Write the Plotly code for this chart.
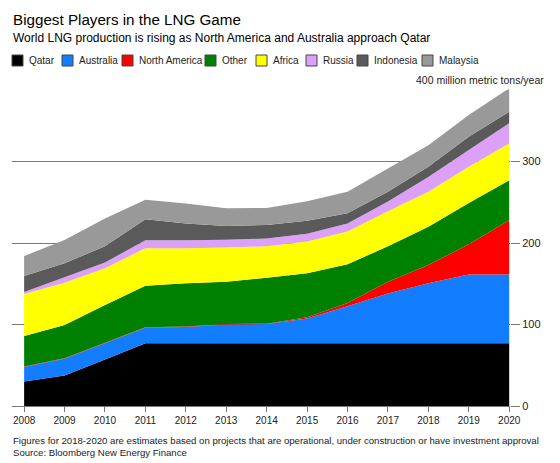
import plotly.graph_objects as go

years = list(range(2008, 2021))
qatar = [30, 37.5, 57, 77, 77, 77, 77, 77, 77, 77, 77, 77, 77]
australia = [18, 20.5, 20, 19, 20, 23, 23.5, 30.5, 45.5, 61, 73.5, 84.5, 84.5]
north_america = [0.5, 0.5, 0.5, 0.5, 0.5, 0.5, 0.5, 1.5, 4, 14.5, 22.5, 37, 66.5]
other = [37.5, 41, 46.5, 51, 53, 52, 56.5, 54, 47.5, 43.5, 47, 50.5, 49]
africa = [51.5, 51.6, 45, 46, 43, 42, 38.5, 38.7, 40, 43, 43, 44.5, 45]
russia = [2.5, 7, 7, 10, 10, 9.5, 9.5, 9.5, 10, 12, 18, 20.5, 25]
indonesia = [19.5, 17, 20, 25.5, 20.5, 17, 16.5, 16, 12.5, 12, 12.5, 16.5, 14]
malaysia = [24.5, 28.5, 34, 24, 24.5, 21.5, 21, 24, 26.5, 28.5, 26.5, 26.5, 29]

series_names = ["Qatar", "Australia", "North America", "Other", "Africa", "Russia", "Indonesia", "Malaysia"]
series_values = [qatar, australia, north_america, other, africa, russia, indonesia, malaysia]
series_colors = ["#000000", "#127dff", "#ff0000", "#008000", "#ffff00", "#dca0f8", "#5a5a5a", "#999999"]

y_tickvals = [0, 100, 200, 300, 400]
y_ticktext = ["0", "100", "200", "300", ""]

title = "Biggest Players in the LNG Game"
subtitle = "World LNG production is rising as North America and Australia approach Qatar"
unit_label = "400 million metric tons/year"
footnote1 = "Figures for 2018-2020 are estimates based on projects that are operational, under construction or have investment approval"
footnote2 = "Source: Bloomberg New Energy Finance"

W, H = 560, 463
ML, MR, MT, MB = 12, 50, 80, 57
PW, PH = W - ML - MR, H - MT - MB


def px(x):
    return (x - ML) / PW


def py(y):
    return (H - MB - y) / PH


FONT = "Liberation Sans"

fig = go.Figure()
for name, vals, col in zip(series_names, series_values, series_colors):
    fig.add_trace(go.Scatter(
        x=years, y=vals, name=name, mode="none", stackgroup="one",
        fillcolor=col, showlegend=False, hoverinfo="x+y+name",
    ))

annotations = [
    dict(text=title, x=px(11), y=py(20), xref="paper", yref="paper", xanchor="left", yanchor="middle",
         showarrow=False, font=dict(family=FONT, size=15.2, color="#000")),
    dict(text=subtitle, x=px(11), y=py(38), xref="paper", yref="paper", xanchor="left", yanchor="middle",
         showarrow=False, font=dict(family=FONT, size=12, color="#000")),
    dict(text=footnote1, x=px(11), y=py(440), xref="paper", yref="paper", xanchor="left", yanchor="middle",
         showarrow=False, font=dict(family=FONT, size=9.6, color="#222")),
    dict(text=footnote2, x=px(11), y=py(452), xref="paper", yref="paper", xanchor="left", yanchor="middle",
         showarrow=False, font=dict(family=FONT, size=9.6, color="#222")),
    dict(text=unit_label, x=px(548), y=400, xref="paper", yref="y", xanchor="right", yanchor="middle",
         showarrow=False, bgcolor="white", borderpad=3, font=dict(family=FONT, size=10.5, color="#222")),
]

legend_x = [12, 62, 122, 205, 256, 306, 357, 422]
shapes = []
for name, col, lx in zip(series_names, series_colors, legend_x):
    shapes.append(dict(type="rect", xref="paper", yref="paper",
                       x0=px(lx), x1=px(lx + 11), y0=py(66), y1=py(55),
                       fillcolor=col, line=dict(color="#444", width=1)))
    annotations.append(dict(text=name, x=px(lx + 15), y=py(60.5), xref="paper", yref="paper",
                            xanchor="left", yanchor="middle", showarrow=False,
                            font=dict(family=FONT, size=10, color="#222")))

fig.update_layout(
    width=W, height=H, margin=dict(l=ML, r=MR, t=MT, b=MB),
    paper_bgcolor="white", plot_bgcolor="white",
    showlegend=False, annotations=annotations, shapes=shapes,
    xaxis=dict(range=[2007.7, 2020.02], tickvals=years, ticks="outside", ticklen=5,
               tickcolor="#777", showline=True, linecolor="#777", linewidth=1,
               showgrid=False, zeroline=False,
               tickfont=dict(family=FONT, size=10, color="#222")),
    yaxis=dict(range=[0, 400], side="right", tickvals=y_tickvals, ticktext=y_ticktext,
               ticks="outside", ticklen=9, tickcolor="#777", showline=False,
               showgrid=True, gridcolor="#777", gridwidth=1, zeroline=False,
               tickfont=dict(family=FONT, size=11, color="#222")),
)

fig.write_html(
    "out.html",
    config={"displayModeBar": False},
    post_script="document.body.style.margin='0';document.body.style.overflow='hidden';",
)
